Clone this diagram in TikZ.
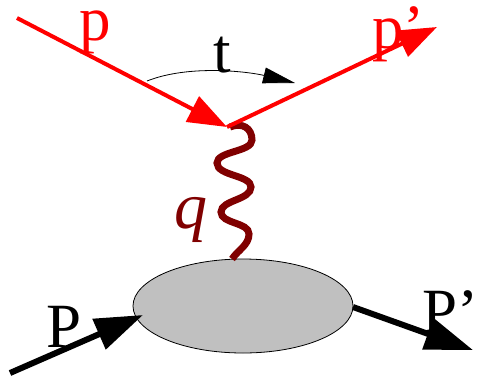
\documentclass[tikz,border=0pt]{standalone}
\usepackage{fontspec}
\setmainfont{Liberation Serif}
\usetikzlibrary{arrows.meta,shapes.geometric}
\definecolor{wavered}{HTML}{800000}
\definecolor{blobgray}{HTML}{C0C0C0}
\begin{document}
\begin{tikzpicture}[x=1pt,y=-1pt,
  lbl/.style={inner sep=0pt,anchor=base,font=\fontsize{63}{63}\selectfont},
  redarrow/.style={red,line width=4pt,-{Triangle[length=39pt,width=28pt]}},
  blackarrow/.style={black,line width=6pt,-{Triangle[length=48pt,width=32pt]}},
  wave/.style={wavered,line width=7pt},
  tarc/.style={black,line width=0.8pt,-{Triangle[length=32pt,width=16pt]}}]
\useasboundingbox (0,0) rectangle (478,380);
\coordinate (pin) at (17,18);
\coordinate (vtx) at (227,127);
\coordinate (pout) at (437,27);
\coordinate (Pin) at (10,373);
\coordinate (Ptip) at (143,315);
\coordinate (Pstart) at (353,307);
\coordinate (Pout) at (473,350);
\coordinate (tA) at (147,81);
\coordinate (tB) at (295,83);
\coordinate (wstart) at (230,127);
\coordinate (wend) at (232,259);
\node[ellipse,draw=black,fill=blobgray,line width=0.8pt,minimum width=220pt,minimum height=94pt,inner sep=0pt] (blob) at (243,306) {};
\draw[wave] (wstart) .. controls (242,122) and (252,128) .. (252,140)
  .. controls (252,152) and (217,151) .. (217,163)
  .. controls (217,176) and (251,175) .. (251,187)
  .. controls (251,200) and (221,200) .. (221,212)
  .. controls (221,224) and (249,222) .. (249,234)
  .. controls (249,245) and (238,250) .. (wend);
\draw[redarrow] (pin) -- (vtx);
\draw[redarrow] (vtx) -- (pout);
\draw[tarc] (tA) .. controls (190,64) and (250,72) .. (tB);
\draw[blackarrow] (Pin) -- (Ptip);
\draw[blackarrow] (Pstart) -- (Pout);
\node[lbl,red] (lp) at (95,40) {p};
\node[lbl] (lt) at (222,72) {t};
\node[lbl,red,anchor=base west] (lpp) at (372,48) {p’};
\node[lbl,anchor=base west] (lP) at (46,347) {P};
\node[lbl,anchor=base west] (lPP) at (422,332) {P’};
\node[lbl,wavered,font=\fontsize{66}{66}\selectfont\itshape] (lq) at (191,228) {q};
\end{tikzpicture}
\end{document}
